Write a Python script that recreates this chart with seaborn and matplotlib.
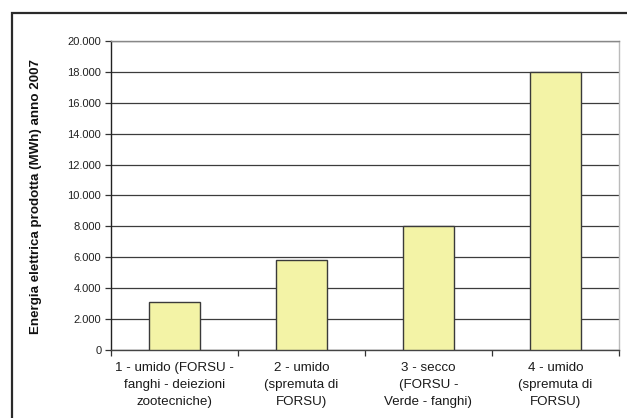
import matplotlib
matplotlib.use("Agg")
import matplotlib.pyplot as plt
import matplotlib.patches as mpatches
from matplotlib.ticker import FuncFormatter, FixedLocator
import seaborn as sns
import pandas as pd

# Energy produced per plant type, year 2007 (MWh)
categories = [
    "1 - umido (FORSU -\nfanghi - deiezioni\nzootecniche)",
    "2 - umido\n(spremuta di\nFORSU)",
    "3 - secco\n(FORSU -\nVerde - fanghi)",
    "4 - umido\n(spremuta di\nFORSU)",
]
energy_mwh = [3100, 5800, 8000, 18000]
y_ticks = list(range(0, 20001, 2000))
y_label = "Energia elettrica prodotta (MWh) anno 2007"

sns.set_style("white")
plt.rcParams["font.family"] = ["Liberation Sans", "DejaVu Sans"]

df = pd.DataFrame({"categoria": categories, "energia": energy_mwh})

fig = plt.figure(figsize=(6.27, 4.18), dpi=100)
ax = fig.add_axes([0.177, 0.163, 0.810, 0.739])

sns.barplot(data=df, x="categoria", y="energia", ax=ax, color="#F3F3A6",
            saturation=1, width=0.4, edgecolor="#3a3a3a", linewidth=1.0,
            zorder=3)

ax.set_ylim(0, 20000)
ax.set_xlim(-0.5, 3.5)
ax.yaxis.set_major_locator(FixedLocator(y_ticks))
ax.yaxis.set_major_formatter(
    FuncFormatter(lambda v, _: f"{int(v):,}".replace(",", ".")))
ax.grid(axis="y", color="#3c3c3c", linewidth=0.9, zorder=0)
ax.grid(axis="x", visible=False)

# category boundary ticks on the x axis
ax.set_xticks([0, 1, 2, 3])
ax.set_xticks([-0.5, 0.5, 1.5, 2.5, 3.5], minor=True)
ax.tick_params(axis="x", which="major", length=0, labelsize=9.6,
               colors="#1a1a1a", pad=9)
ax.tick_params(axis="x", which="minor", length=4, width=0.9,
               color="#333333", direction="out", bottom=True)
ax.tick_params(axis="y", length=4, width=0.9, color="#333333",
               direction="out", left=True, labelsize=8,
               labelcolor="#222222", pad=3)
for lbl in ax.get_xticklabels():
    lbl.set_linespacing(1.55)

ax.set_xlabel("")
ax.set_ylabel(y_label, fontsize=9.6, fontweight="bold", color="#111111")
ax.yaxis.set_label_coords(-0.135, 0.495)

for side, col in (("left", "#222222"), ("bottom", "#444444"),
                  ("top", "#888888"), ("right", "#bbbbbb")):
    ax.spines[side].set_visible(True)
    ax.spines[side].set_color(col)
    ax.spines[side].set_linewidth(1.0)

# outer chart frame
frame = mpatches.Rectangle((0.019, -0.2), 1.2, 0.2 + 0.969,
                           transform=fig.transFigure, fill=False,
                           edgecolor="#2a2a2a", linewidth=1.6)
fig.patches.append(frame)

fig.savefig("out.png", dpi=100)
